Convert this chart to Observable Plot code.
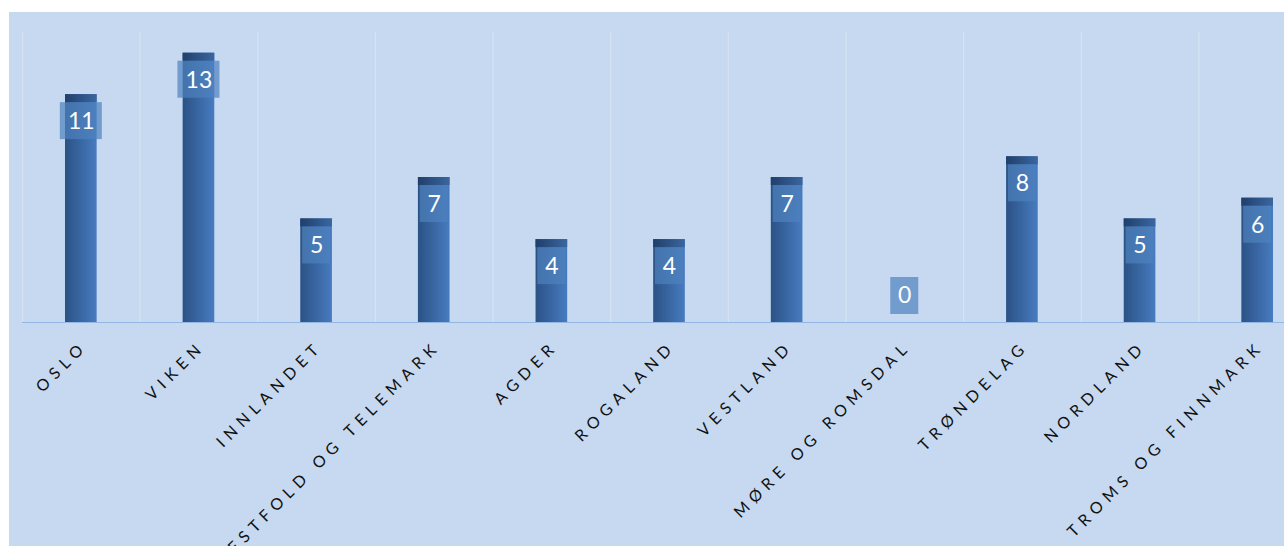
<!DOCTYPE html>
<html>
<head>
<meta charset="utf-8">
<script src="https://cdn.jsdelivr.net/npm/d3@7"></script>
<script src="https://cdn.jsdelivr.net/npm/@observablehq/plot@0.6"></script>
<style>
  html, body { margin: 0; padding: 0; background: #ffffff; overflow: hidden; width: 1284px; height: 546px; }
  #chart { position: absolute; left: 9px; top: 12px; width: 1275px; height: 534px; overflow: hidden; background: #c6d9f0; }
  #chart svg { background: #c6d9f0; display: block; max-width: none !important; }
</style>
</head>
<body>
<div id="chart"></div>
<script>
const categories = ["OSLO","VIKEN","INNLANDET","VESTFOLD OG TELEMARK","AGDER","ROGALAND","VESTLAND","MØRE OG ROMSDAL","TRØNDELAG","NORDLAND","TROMS OG FINNMARK"];
const values = [11,13,5,7,4,4,7,0,8,5,6];
const yMax = 14;

const data = categories.map((c, i) => ({cat: c, value: values[i]}));

const W = 1307, H = 534, mL = 13, mR = 0, mT = 20, mB = 224;
const plotH = H - mT - mB;
const unitPx = plotH / yMax;
const bw = (W - mL - mR) / categories.length;
const capU = 8 / unitPx;
const boxU = 45 / unitPx;
const font = "Lato, 'Open Sans', sans-serif";

const pos = data.filter(d => d.value > 0);
const zero = data.filter(d => d.value === 0);
const boxInset = d => (bw - (String(d.value).length > 1 ? 42 : 28)) / 2;

const chart = Plot.plot({
  width: W, height: H,
  marginLeft: mL, marginRight: mR, marginTop: mT, marginBottom: mB,
  style: {background: "#c6d9f0", fontFamily: font, maxWidth: "none"},
  x: {domain: categories, padding: 0, round: false, axis: null},
  y: {domain: [0, yMax], axis: null},
  marks: [
    Plot.ruleX(categories, {x: d => d, dx: -bw / 2, y1: 0, y2: yMax, stroke: "#d6e3f4", strokeWidth: 1.2}),
    Plot.ruleY([0], {stroke: "#93b6e3", strokeWidth: 1.2}),
    Plot.barY(data, {x: "cat", y: "value", fill: "url(#barGrad)", insetLeft: 43, insetRight: 43}),
    Plot.barY(pos, {x: "cat", y1: d => d.value, y2: d => d.value - capU, fill: "url(#capGrad)", insetLeft: 43, insetRight: 43}),
    Plot.barY(pos.filter(d => String(d.value).length > 1), {x: "cat", y1: d => d.value, y2: d => d.value - boxU, insetTop: 8, insetLeft: boxInset({value: 10}), insetRight: boxInset({value: 10}), fill: "#4f81bd", fillOpacity: 0.7}),
    Plot.barY(pos.filter(d => String(d.value).length === 1), {x: "cat", y1: d => d.value, y2: d => d.value - boxU, insetTop: 8, insetLeft: boxInset({value: 1}), insetRight: boxInset({value: 1}), fill: "#4f81bd", fillOpacity: 0.7}),
    Plot.barY(zero, {x: "cat", y1: 0, y2: boxU, insetBottom: 8, insetLeft: boxInset({value: 0}), insetRight: boxInset({value: 0}), fill: "#4f81bd", fillOpacity: 0.7}),
    Plot.text(pos, {x: "cat", y: "value", text: d => String(d.value), dy: 27, fill: "white", fontSize: 23, fontFamily: font}),
    Plot.text(zero, {x: "cat", y: "value", text: d => String(d.value), dy: -27, fill: "white", fontSize: 23, fontFamily: font}),
    Plot.text(categories, {x: d => d, frameAnchor: "bottom", dy: 25, dx: 7, rotate: -45, textAnchor: "end", text: d => d, fill: "#111", fontSize: 16, fontFamily: font})
  ]
});

const svg = d3.select(chart);
svg.style("max-width", "none").style("width", W + "px").style("height", H + "px");
svg.selectAll("text").filter(function() { return categories.includes(this.textContent); })
  .style("letter-spacing", "5.7px");
const defs = svg.insert("defs", ":first-child");
const g1 = defs.append("linearGradient").attr("id", "barGrad").attr("x1", 0).attr("x2", 1).attr("y1", 0).attr("y2", 0);
g1.append("stop").attr("offset", "0%").attr("stop-color", "#2b5285");
g1.append("stop").attr("offset", "100%").attr("stop-color", "#477bc0");
const g2 = defs.append("linearGradient").attr("id", "capGrad").attr("x1", 0).attr("x2", 1).attr("y1", 0).attr("y2", 0);
g2.append("stop").attr("offset", "0%").attr("stop-color", "#203f6b");
g2.append("stop").attr("offset", "100%").attr("stop-color", "#3a669f");

document.getElementById("chart").appendChild(chart);
</script>
</body>
</html>
